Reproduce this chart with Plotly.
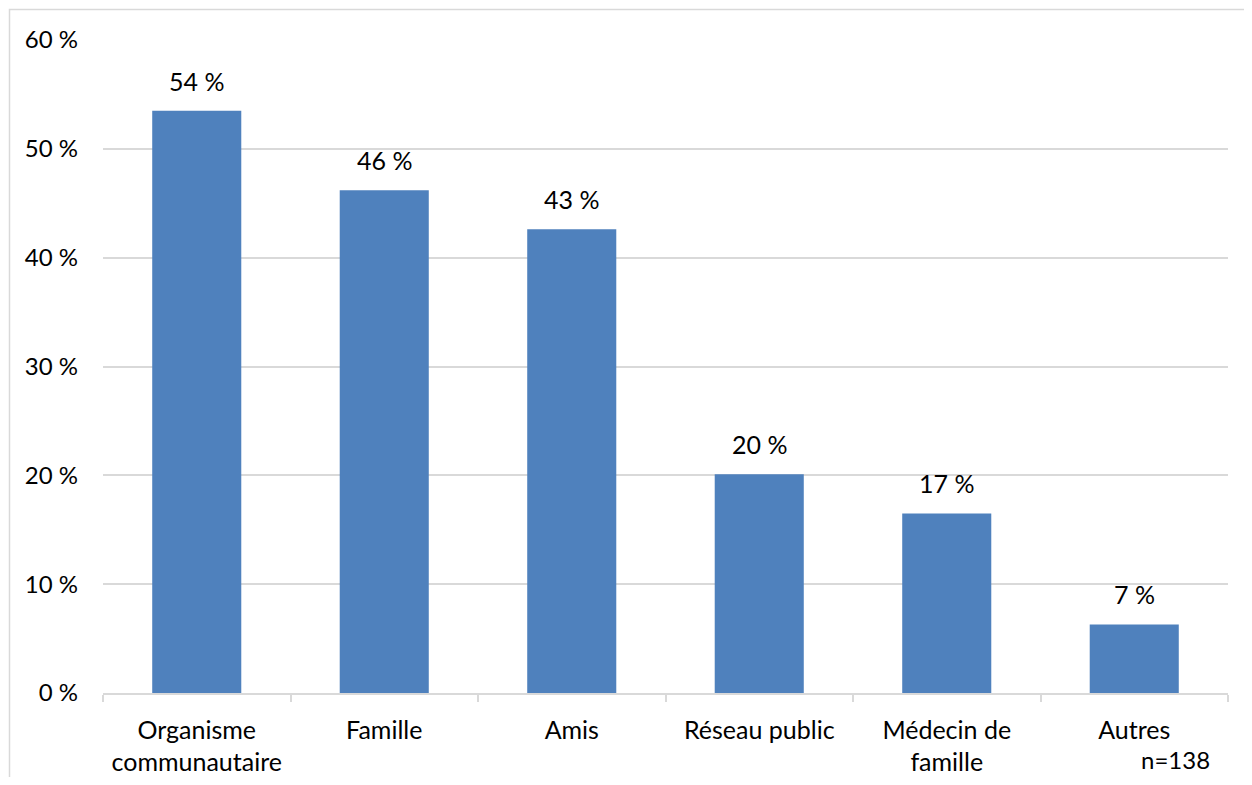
import plotly.graph_objects as go

categories = ["Organisme<br>communautaire", "Famille", "Amis", "Réseau public", "Médecin de<br>famille", "Autres"]
values = [53.5, 46.2, 42.6, 20.1, 16.5, 6.3]
value_labels = ["54 %", "46 %", "43 %", "20 %", "17 %", "7 %"]
y_ticks = [0, 10, 20, 30, 40, 50, 60]
y_tick_labels = ["0 %", "10 %", "20 %", "30 %", "40 %", "50 %", "60 %"]
note = "n=138"

OFF = 8  # page body margin
W, H = 1252 - 2 * OFF, 785 - 2 * OFF
# plot area in page pixels: x 103..1228, y 40..693
ml = 103 - OFF
mt = 40 - OFF
mr = W - (1228 - OFF)
mb = H - (693 - OFF)
pw = W - ml - mr
ph = H - mt - mb
FONT = "Lato"
FS = 25


def px_x(X):
    return ((X - OFF) - ml) / pw


def px_y(Y):
    return ((H - mb) - (Y - OFF)) / ph


fig = go.Figure()
fig.add_trace(go.Bar(
    x=categories, y=values,
    marker=dict(color="#4F81BD", line=dict(width=0)),
    width=0.475,
    hoverinfo="skip",
))

for c, v, t in zip(categories, values, value_labels):
    fig.add_annotation(x=c, y=v, text=t, showarrow=False, yanchor="middle",
                       yshift=30, font=dict(size=FS, color="#000000", family=FONT))

fig.add_annotation(xref="paper", yref="paper", x=px_x(1175), y=px_y(759),
                   xanchor="center", yanchor="middle", text=note, showarrow=False,
                   borderpad=0,
                   font=dict(size=FS - 1, color="#000000", family=FONT))

fig.add_shape(type="rect", xref="paper", yref="paper",
              x0=px_x(9.5), x1=px_x(1275),
              y0=px_y(800), y1=px_y(9.5),
              line=dict(color="#d9d9d9", width=1.5), fillcolor="rgba(0,0,0,0)", layer="below")

fig.update_layout(
    width=W, height=H,
    margin=dict(l=ml, r=mr, t=mt, b=mb, pad=0, autoexpand=False),
    paper_bgcolor="white", plot_bgcolor="white",
    showlegend=False,
    font=dict(family=FONT, size=FS, color="#000000"),
)
fig.update_xaxes(
    type="category", automargin=False,
    showline=True, linecolor="#d9d9d9", linewidth=1.5,
    ticks="outside", tickson="boundaries", ticklen=7, tickcolor="#d9d9d9", tickwidth=1.5,
    ticklabelstandoff=14,
    tickfont=dict(size=FS, family=FONT, color="#000000"),
    showgrid=False,
)
fig.update_yaxes(
    range=[0, 60], tickvals=y_ticks, ticktext=y_tick_labels, automargin=False,
    showgrid=True, gridcolor="#d9d9d9", gridwidth=1.5,
    showline=False, zeroline=False, ticks="",
    ticklabelstandoff=24,
    tickfont=dict(size=FS - 1, family=FONT, color="#000000"),
)

fig.write_html("out.html")
